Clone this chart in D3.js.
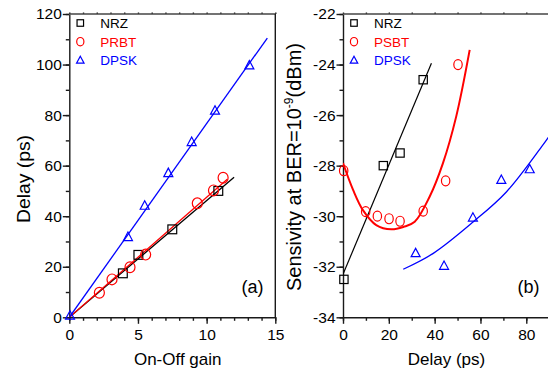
<!DOCTYPE html>
<html><head><meta charset="utf-8">
<script src="https://cdn.jsdelivr.net/npm/d3@7"></script>
<style>
html,body{margin:0;padding:0;background:#fff;}
svg{display:block;font-family:"Liberation Sans",Arial,sans-serif;}
</style></head>
<body>
<svg id="c" width="548" height="373"></svg>
<script>
// ---------- Panel (a) data: Delay (ps) vs On-Off gain ----------
const aNRZ  = [[3.9,17.4],[5.03,24.7],[7.5,34.8],[10.85,50.0]];
const aPRBT = [[2.19,9.7],[3.11,15.0],[4.42,19.8],[5.56,24.8],[9.32,45.1],[10.5,50.2],[11.2,55.2]];
const aDPSK = [[0.05,0.6],[4.27,31.7],[5.49,44.1],[7.21,57.0],[8.91,69.3],[10.61,81.7],[13.11,99.6]];
const aFitNRZ  = [[0,0],[12.0,55.4]];
const aFitPRBT = [[0,0],[11.5,54.6]];
const aFitDPSK = [[0,0],[14.42,110.5]];
const aXTicks = [0,5,10,15];
const aYTicks = [0,20,40,60,80,100,120];
const aLegend = ["NRZ","PRBT","DPSK"];

// ---------- Panel (b) data: Sensitivity vs Delay ----------
const bNRZ  = [[0.4,-32.5],[17.6,-28.0],[24.9,-27.5],[35.0,-24.6]];
const bPSBT = [[0.3,-28.2],[9.9,-29.82],[15.0,-30.0],[20.1,-30.1],[24.9,-30.2],[35.0,-29.8],[44.8,-28.6],[50.2,-24.0]];
const bDPSK = [[31.7,-31.47],[44.1,-31.97],[56.7,-30.06],[69.1,-28.57],[81.5,-28.15]];
const bFitNRZ  = [[0,-32.3],[38.6,-23.95]];
const bFitPSBT = [[0,-27.9],[4.4,-28.96],[8.7,-29.76],[14.5,-30.35],[21.1,-30.52],[26.5,-30.42],[31.3,-30.22],[37.8,-29.23],[43.6,-27.91],[49.4,-26.06],[55.3,-23.42]];
const bFitDPSK = [[26.3,-32.1],[39.4,-31.47],[56.9,-30.22],[71.4,-29.03],[86.7,-27.25],[91,-26.7]];
const bXTicks = [0,20,40,60,80];
const bYTicks = [-34,-32,-30,-28,-26,-24,-22];
const bLegend = ["NRZ","PSBT","DPSK"];

const colors = ["#000000","#ff0000","#0000ff"];

const svg = d3.select("#c");
const axisColor = "#1a1a1a";

function drawPanel(o){
  const g = svg.append("g");
  const x = d3.scaleLinear().domain(o.xDom).range(o.xRange);
  const y = d3.scaleLinear().domain(o.yDom).range([317.3,14]);
  const fmt = d => String(d);

  // minor ticks
  g.append("g").attr("transform",`translate(0,${y.range()[0]})`)
    .call(d3.axisBottom(x).tickValues(d3.range(o.xDom[0],o.xDom[1]+1e-9,o.xMinor)).tickSize(3.5).tickFormat(""))
    .call(s=>s.select(".domain").remove());
  g.append("g").attr("transform",`translate(${o.xRange[0]},0)`)
    .call(d3.axisLeft(y).tickValues(d3.range(o.yDom[0],o.yDom[1]+1e-9,o.yMinor)).tickSize(3.5).tickFormat(""))
    .call(s=>s.select(".domain").remove());
  // top minor ticks
  g.append("g").attr("transform",`translate(0,${y.range()[1]})`)
    .call(d3.axisTop(x).tickValues(d3.range(o.xDom[0],o.xDom[1]+1e-9,o.xMinor)).tickSize(1.5).tickFormat(""))
    .call(s=>s.select(".domain").remove());

  // major
  const xa = g.append("g").attr("transform",`translate(0,${y.range()[0]})`)
    .call(d3.axisBottom(x).tickValues(o.xTicks).tickSize(6.5).tickPadding(5.5).tickFormat(fmt).tickSizeOuter(0));
  const ya = g.append("g").attr("transform",`translate(${o.xRange[0]},0)`)
    .call(d3.axisLeft(y).tickValues(o.yTicks).tickSize(6.5).tickPadding(1).tickFormat(fmt).tickSizeOuter(0));
  [xa,ya].forEach(a=>{
    a.selectAll("text").attr("font-size","15.5px").attr("fill","#000").attr("font-family","'Liberation Sans',Arial,sans-serif");
    a.selectAll("line,path").attr("stroke",axisColor).attr("stroke-width",1.4);
  });
  g.selectAll("line").attr("stroke",axisColor).attr("stroke-width",1.4);

  // frame top and right
  g.append("line").attr("x1",o.xRange[0]).attr("x2",Math.min(o.xRange[1],548)).attr("y1",14).attr("y2",14)
    .attr("stroke","#444").attr("stroke-width",1.6);
  if(o.rightFrame){
    g.append("line").attr("x1",o.xRange[1]).attr("x2",o.xRange[1]).attr("y1",14).attr("y2",317.3)
      .attr("stroke",axisColor).attr("stroke-width",1.4);
  }

  // clip
  const cid = "clip"+o.id;
  svg.append("clipPath").attr("id",cid).append("rect")
    .attr("x",o.xRange[0]).attr("y",14).attr("width",o.xRange[1]-o.xRange[0]).attr("height",317.3-14);
  const dg = g.append("g").attr("clip-path",`url(#${cid})`);

  const line = d3.line().x(d=>x(d[0])).y(d=>y(d[1]));
  o.fits.forEach((f,i)=>{
    dg.append("path").attr("d", line.curve(o.curves[i])(f)).attr("fill","none")
      .attr("stroke",colors[i]).attr("stroke-width",o.fitWidths[i]);
  });

  const mk = o.mk;
  function marker(sel,type,cx,cy,color,s){
    if(type===0){
      sel.append("rect").attr("x",cx-s.sq/2).attr("y",cy-s.sq/2).attr("width",s.sq).attr("height",s.sq)
        .attr("fill","none").attr("stroke",color).attr("stroke-width",1.2);
    } else if(type===1){
      sel.append("ellipse").attr("cx",cx).attr("cy",cy).attr("rx",s.rx).attr("ry",s.ry)
        .attr("fill","none").attr("stroke",color).attr("stroke-width",1.2);
    } else {
      const w=s.tw/2,h=s.th;
      sel.append("path").attr("d",`M${cx},${cy-h*0.6}L${cx+w},${cy+h*0.4}L${cx-w},${cy+h*0.4}Z`)
        .attr("fill","none").attr("stroke",color).attr("stroke-width",1.2);
    }
  }
  o.series.forEach((ser,i)=>{
    ser.forEach(d=>marker(o.markerClip? dg : g,i,x(d[0]),y(d[1]),colors[i],mk));
  });

  // legend
  const lx = o.xRange[0]+11;
  const lmk = {sq:6.5,rx:3.6,ry:4.2,tw:7.5,th:7};
  o.legend.forEach((t,i)=>{
    const cy = 23+i*18.7;
    marker(g,i,lx,cy,colors[i],lmk);
    g.append("text").attr("x",lx+20).attr("y",cy+5).attr("font-size","13.5px").attr("fill",colors[i]).text(t);
  });

  // panel tag
  g.append("text").attr("x",o.tagX).attr("y",293).attr("font-size","18px").attr("text-anchor","end").text(o.tag);

  // x label
  g.append("text").attr("x",o.xLabX).attr("y",365).attr("text-anchor","middle").attr("font-size","17px").text(o.xLabel);
  return {x,y,g};
}

drawPanel({id:"a",xDom:[0,15],xRange:[69.3,275.3],yDom:[0,120],xMinor:1,yMinor:10,
  xTicks:aXTicks,yTicks:aYTicks,rightFrame:true,
  fits:[aFitNRZ,aFitPRBT,aFitDPSK],curves:[d3.curveLinear,d3.curveLinear,d3.curveLinear],fitWidths:[1.3,1.3,1.3],
  series:[aNRZ,aPRBT,aDPSK],mk:{sq:8.8,rx:5,ry:5.4,tw:9,th:8.5},legend:aLegend,
  tag:"(a)",tagX:263.5,xLabel:"On-Off gain",xLabX:177.7});

drawPanel({id:"b",xDom:[0,90],xRange:[343,549.2],yDom:[-34,-22],xMinor:10,yMinor:1,
  xTicks:bXTicks,yTicks:bYTicks,rightFrame:false,
  fits:[bFitNRZ,bFitPSBT,bFitDPSK],curves:[d3.curveLinear,d3.curveCatmullRom,d3.curveCatmullRom],fitWidths:[1.2,2,1.3],
  series:[bNRZ,bPSBT,bDPSK],markerClip:false,mk:{sq:8.3,rx:4.2,ry:5,tw:9,th:8.3},legend:bLegend,
  tag:"(b)",tagX:539.5,xLabel:"Delay (ps)",xLabX:446.5});

// y labels
svg.append("text").attr("transform","translate(30,179) rotate(-90)").attr("text-anchor","middle")
  .attr("font-size","19px").attr("textLength",88).attr("lengthAdjust","spacingAndGlyphs").text("Delay (ps)");
const yl = svg.append("text").attr("transform","translate(301,167) rotate(-90)").attr("text-anchor","middle")
  .attr("font-size","20px");
yl.append("tspan").text("Sensivity at BER=10");
yl.append("tspan").attr("font-size","12px").attr("dy","-8").text("-9");
yl.append("tspan").attr("dy","8").text("(dBm)");
</script>
</body></html>
